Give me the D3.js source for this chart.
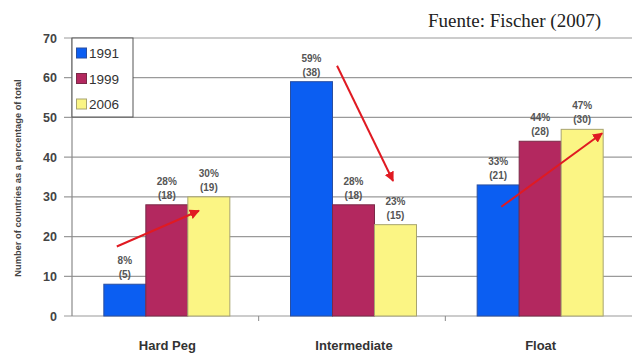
<!DOCTYPE html>
<html><head><meta charset="utf-8">
<script src="https://cdn.jsdelivr.net/npm/d3@7"></script>
<style>body{margin:0;background:#fff}svg{display:block}</style>
</head><body>
<svg id="c" width="632" height="356"></svg>
<script>
const categories = ["Hard Peg", "Intermediate", "Float"];
const years = ["1991", "1999", "2006"];
const pct1991 = [8, 59, 33];
const pct1999 = [28, 28, 44];
const pct2006 = [30, 23, 47];
const cnt1991 = [5, 38, 21];
const cnt1999 = [18, 18, 28];
const cnt2006 = [19, 15, 30];
const yTicks = [0, 10, 20, 30, 40, 50, 60, 70];
// arrows: [category index, fraction within band, value] start -> end
const arrowStart = [[0, 0.24, 17.5], [1, 0.42, 63], [2, 0.30, 27.5]];
const arrowEnd = [[0, 0.68, 26.5], [1, 0.72, 34], [2, 0.84, 46]];

const colors = ["#0b5ef2", "#b3285f", "#fbf584"];
const strokes = ["#2a4fa0", "#7a2a48", "#a8a470"];
const pcts = [pct1991, pct1999, pct2006];
const cnts = [cnt1991, cnt1999, cnt2006];

const svg = d3.select("#c");
const m = {l: 72, r: 0, t: 38, b: 40};
const W = 632, H = 356;
const x0 = d3.scaleBand().domain(categories).range([m.l, W - m.r]).paddingInner(0).paddingOuter(0);
const x1 = d3.scaleBand().domain(years).range([0, 126]);
const y = d3.scaleLinear().domain([0, 70]).range([316, 38]);
const groupOffset = (x0.bandwidth() - 126) / 2 + 1.5;

// grid
svg.append("g").selectAll("line").data(yTicks).join("line")
  .attr("x1", m.l - 8).attr("x2", W).attr("y1", d => y(d)).attr("y2", d => y(d))
  .attr("stroke", "#9a9a9a").attr("stroke-width", 1.2);
// y axis line
svg.append("line").attr("x1", m.l).attr("x2", m.l).attr("y1", y(70)).attr("y2", y(0))
  .attr("stroke", "#8a8a8a").attr("stroke-width", 1.2);
// category ticks
svg.append("g").selectAll("line").data(categories.slice(1)).join("line")
  .attr("x1", d => x0(d)).attr("x2", d => x0(d)).attr("y1", y(0)).attr("y2", y(0) + 5)
  .attr("stroke", "#8a8a8a");
// y labels
svg.append("g").selectAll("text").data(yTicks).join("text")
  .attr("x", 57).attr("y", d => y(d) + 4.5).attr("text-anchor", "end")
  .attr("font-family", "Liberation Sans, Arial, sans-serif").attr("font-weight", "bold")
  .attr("font-size", 12.5).attr("fill", "#444").text(d => d);

// bars
years.forEach((yr, i) => {
  const g = svg.append("g");
  g.selectAll("rect").data(categories).join("rect")
    .attr("x", d => x0(d) + groupOffset + x1(yr))
    .attr("y", (d, j) => y(pcts[i][j]))
    .attr("width", x1.bandwidth())
    .attr("height", (d, j) => y(0) - y(pcts[i][j]))
    .attr("fill", colors[i]).attr("stroke", strokes[i]).attr("stroke-width", 1);
  g.selectAll("text.p").data(categories).join("text").attr("class", "p")
    .attr("x", d => x0(d) + groupOffset + x1(yr) + x1.bandwidth() / 2)
    .attr("y", (d, j) => y(pcts[i][j]) - 20)
    .attr("text-anchor", "middle").attr("font-family", "Liberation Sans, Arial, sans-serif")
    .attr("font-size", 10).attr("font-weight", "bold").attr("fill", "#555")
    .text((d, j) => pcts[i][j] + "%");
  g.selectAll("text.n").data(categories).join("text").attr("class", "n")
    .attr("x", d => x0(d) + groupOffset + x1(yr) + x1.bandwidth() / 2)
    .attr("y", (d, j) => y(pcts[i][j]) - 6)
    .attr("text-anchor", "middle").attr("font-family", "Liberation Sans, Arial, sans-serif")
    .attr("font-size", 10).attr("font-weight", "bold").attr("fill", "#555")
    .text((d, j) => "(" + cnts[i][j] + ")");
});

// x labels
svg.append("g").selectAll("text").data(categories).join("text")
  .attr("x", d => x0(d) + x0.bandwidth() / 2 + 2).attr("y", 350)
  .attr("text-anchor", "middle").attr("font-family", "Liberation Sans, Arial, sans-serif")
  .attr("font-weight", "bold").attr("font-size", 13).attr("fill", "#333").text(d => d);

// y title
svg.append("text").attr("transform", "translate(21," + 178 + ") rotate(-90)")
  .attr("text-anchor", "middle").attr("font-family", "Liberation Sans, Arial, sans-serif")
  .attr("font-weight", "bold").attr("font-size", 9.3).attr("fill", "#444")
  .text("Number of countries as a percentage of total");

// title
svg.append("text").attr("x", 601).attr("y", 27).attr("text-anchor", "end")
  .attr("font-family", "Liberation Serif, Times New Roman, serif")
  .attr("font-size", 19).attr("fill", "#222").text("Fuente: Fischer (2007)");

// arrows
svg.append("defs").append("marker").attr("id", "ah").attr("viewBox", "0 0 10 10")
  .attr("refX", 9).attr("refY", 5).attr("markerWidth", 5).attr("markerHeight", 5)
  .attr("orient", "auto").append("path").attr("d", "M0,0L10,5L0,10z").attr("fill", "#e01a22");
const px = a => x0(categories[a[0]]) + a[1] * x0.bandwidth();
svg.append("g").selectAll("line").data(arrowStart).join("line")
  .attr("x1", d => px(d)).attr("y1", d => y(d[2]))
  .attr("x2", (d, i) => px(arrowEnd[i])).attr("y2", (d, i) => y(arrowEnd[i][2]))
  .attr("stroke", "#e01a22").attr("stroke-width", 2).attr("marker-end", "url(#ah)");

// legend
const lg = svg.append("g");
lg.append("rect").attr("x", m.l).attr("y", y(70)).attr("width", 61).attr("height", 79)
  .attr("fill", "#fff").attr("stroke", "#555").attr("stroke-width", 1);
years.forEach((yr, i) => {
  const cy = 53 + i * 25.5;
  lg.append("rect").attr("x", 76.5).attr("y", cy - 5).attr("width", 10).attr("height", 10)
    .attr("fill", colors[i]).attr("stroke", strokes[i]);
  lg.append("text").attr("x", 89).attr("y", cy + 5).attr("font-family", "Liberation Sans, Arial, sans-serif")
    .attr("font-size", 13.5).attr("fill", "#333").text(yr);
});
</script>
</body></html>
